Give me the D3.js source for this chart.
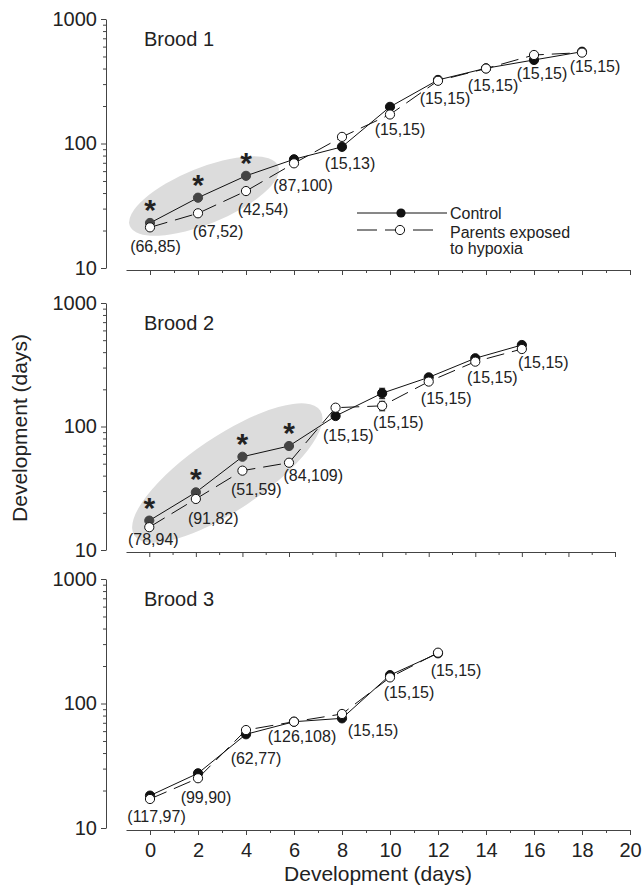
<!DOCTYPE html>
<html>
<head>
<meta charset="utf-8">
<script src="https://cdn.jsdelivr.net/npm/d3@7"></script>
<style>
    body { margin: 0; background: #fff; }
    svg { display: block; font-family: "Liberation Sans", Arial, sans-serif; }
</style>
</head>
<body>
<div id="chart"></div>
<script>
// values (development, days)
const brood1Days = [0, 2, 4, 6, 8, 10, 12, 14, 16, 18];
const brood1Control = [23, 36.7, 55, 74.7, 94, 197, 324, 402, 469, 546];
const brood1Hypoxia = [21.2, 27.5, 41.5, 69.3, 113, 171, 319, 400, 514, 537];
const brood1N = ["(66,85)", "(67,52)", "(42,54)", "(87,100)", "(15,13)", "(15,15)", "(15,15)", "(15,15)", "(15,15)", "(15,15)"];
const brood1Stars = [0, 2, 4];
const brood1Highlight = {x: [-0.84, 5.34], y: [21.7, 66]};

const brood2Days = [0, 2, 4, 6, 8, 10, 12, 14, 16];
const brood2Control = [17.3, 29.3, 56.9, 69.5, 121.6, 186, 250, 357, 457];
const brood2Hypoxia = [15.3, 25.9, 43.9, 50.9, 142, 147, 231, 335, 424];
const brood2ControlErr = [0, 0, 0, 0, 0, 18, 0, 0, 0];
const brood2HypoxiaErr = [0, 0, 0, 0, 0, 13, 0, 0, 0];
const brood2N = ["(78,94)", "(91,82)", "(51,59)", "(84,109)", "(15,15)", "(15,15)", "(15,15)", "(15,15)", "(15,15)"];
const brood2Stars = [0, 2, 4, 6];
const brood2Highlight = {x: [-0.64, 7.34], y: [13.1, 134.9]};

const brood3Days = [0, 2, 4, 6, 8, 10, 12];
const brood3Control = [18.2, 27.5, 56.6, 71.4, 76, 169, 253];
const brood3Hypoxia = [17.1, 25.1, 61.2, 71.4, 82.4, 162, 256];
const brood3N = ["(117,97)", "(99,90)", "(62,77)", "(126,108)", "(15,15)", "(15,15)", "(15,15)"];
const brood3Stars = [];

const xDomain = [-1, 20];
const yDomain = [10, 1000];
const yMajor = [10, 100, 1000];
const yMinor = [20, 30, 40, 50, 60, 70, 80, 90, 200, 300, 400, 500, 600, 700, 800, 900];
const seriesNames = ["Control", "Parents exposed", "to hypoxia"];

const width = 644, height = 888;
const ink = "#222";

// layout of the three stacked panels
const panels = [
    {
        title: "Brood 1", days: brood1Days, control: brood1Control, hypoxia: brood1Hypoxia,
        n: brood1N, stars: brood1Stars, highlight: brood1Highlight, halfThick: 28,
        left: 126, right: 630, top: 19, bottom: 268,
        labelDx: [5.5, 20, 17, 9, 8, 10, 7, 7, 8, 13],
        labelDy: [19.4, 18.4, 18, 21.7, 16.6, 14.7, 17.6, 16.7, 14, 13.7],
        legend: true
    },
    {
        title: "Brood 2", days: brood2Days, control: brood2Control, hypoxia: brood2Hypoxia,
        controlErr: brood2ControlErr, hypoxiaErr: brood2HypoxiaErr,
        n: brood2N, stars: brood2Stars, highlight: brood2Highlight, halfThick: 37,
        left: 126, right: 615, top: 303, bottom: 550,
        labelDx: [4, 17.4, 13.8, 24.3, 12.7, 16.1, 17.5, 17, 21.4],
        labelDy: [12.7, 19.3, 18.6, 13.1, 19, 17, 16.6, 16, 13.7]
    },
    {
        title: "Brood 3", days: brood3Days, control: brood3Control, hypoxia: brood3Hypoxia,
        n: brood3N, stars: brood3Stars,
        left: 126, right: 630, top: 579, bottom: 828,
        labelDx: [6.5, 8, 10, 8, 31, 19, 18],
        labelDy: [17.7, 19, 24.7, 14.3, 11.7, 15.4, 16.7],
        xLabels: true
    }
];

const svg = d3.select("#chart").append("svg")
    .attr("width", width)
    .attr("height", height);

const r = 4.6;
const dash = "18,8";

panels.forEach(p => {
    const x = d3.scaleLinear().domain(xDomain).range([p.left, p.right]);
    const y = d3.scaleLog().domain(yDomain).range([p.bottom, p.top]);
    const g = svg.append("g");

    // grey highlight behind the significant points
    if (p.highlight) {
        const x0 = x(p.highlight.x[0]), y0 = y(p.highlight.y[0]);
        const x1 = x(p.highlight.x[1]), y1 = y(p.highlight.y[1]);
        const cx = (x0 + x1) / 2, cy = (y0 + y1) / 2;
        const a = Math.hypot(x1 - x0, y1 - y0) / 2;
        const ang = Math.atan2(y1 - y0, x1 - x0) * 180 / Math.PI;
        g.append("ellipse")
            .attr("cx", 0).attr("cy", 0)
            .attr("rx", a).attr("ry", p.halfThick)
            .attr("transform", "translate(" + cx + "," + cy + ") rotate(" + ang + ")")
            .attr("fill", "#dcdcdc");
    }

    // y axis
    const yAxis = g.append("g").attr("transform", "translate(106,0)");
    yAxis.call(d3.axisLeft(y).tickValues(yMajor).tickFormat(d3.format("d")).tickSize(5).tickSizeOuter(0));
    yAxis.append("g").call(d3.axisLeft(y).tickValues(yMinor).tickFormat("").tickSize(3).tickSizeOuter(0))
        .select(".domain").remove();
    yAxis.selectAll("text")
        .attr("font-size", 20)
        .attr("font-family", "Liberation Sans, Arial, sans-serif")
        .attr("fill", ink)
        .attr("dx", "-1");

    // x axis
    const xb = p.bottom + 2;
    const xAxis = g.append("g").attr("transform", "translate(0," + xb + ")");
    xAxis.call(d3.axisBottom(x).tickValues(d3.range(0, 21, 2)).tickSize(5).tickSizeOuter(0)
        .tickFormat(p.xLabels ? d3.format("d") : ""));
    xAxis.append("g").call(d3.axisBottom(x).tickValues(d3.range(1, 20, 2)).tickFormat("").tickSize(3).tickSizeOuter(0))
        .select(".domain").remove();
    xAxis.selectAll("text")
        .attr("font-size", 20)
        .attr("font-family", "Liberation Sans, Arial, sans-serif")
        .attr("fill", ink)
        .attr("dy", "0.95em");

    svg.selectAll(".domain, .tick line").attr("stroke", "#444");

    g.append("text")
        .attr("x", 144).attr("y", p.top + 26.5)
        .attr("font-size", 20).attr("fill", ink)
        .text(p.title);

    const rows = p.days.map((d, i) => ({
        d, i, c: p.control[i], h: p.hypoxia[i],
        ce: p.controlErr ? p.controlErr[i] : 0,
        he: p.hypoxiaErr ? p.hypoxiaErr[i] : 0,
        inHl: p.stars.includes(d)
    }));

    // lines
    g.append("path").datum(rows)
        .attr("fill", "none").attr("stroke", "#111").attr("stroke-width", 1)
        .attr("d", d3.line().x(v => x(v.d)).y(v => y(v.c)));
    g.append("path").datum(rows)
        .attr("fill", "none").attr("stroke", "#111").attr("stroke-width", 1)
        .attr("stroke-dasharray", dash)
        .attr("d", d3.line().x(v => x(v.d)).y(v => y(v.h)));

    // error bars
    const errs = [];
    rows.forEach(v => {
        if (v.ce > 0) errs.push({d: v.d, lo: v.c - v.ce, hi: v.c + v.ce});
        if (v.he > 0) errs.push({d: v.d, lo: v.h - v.he, hi: v.h + v.he});
    });
    const eb = g.selectAll("g.err").data(errs).join("g").attr("class", "err")
        .attr("stroke", "#111").attr("stroke-width", 1);
    eb.append("line").attr("x1", e => x(e.d)).attr("x2", e => x(e.d))
        .attr("y1", e => y(e.lo)).attr("y2", e => y(e.hi));
    eb.append("line").attr("x1", e => x(e.d) - 3).attr("x2", e => x(e.d) + 3)
        .attr("y1", e => y(e.lo)).attr("y2", e => y(e.lo));
    eb.append("line").attr("x1", e => x(e.d) - 3).attr("x2", e => x(e.d) + 3)
        .attr("y1", e => y(e.hi)).attr("y2", e => y(e.hi));

    // markers
    g.selectAll("circle.ctrl").data(rows).join("circle").attr("class", "ctrl")
        .attr("cx", v => x(v.d)).attr("cy", v => y(v.c)).attr("r", r)
        .attr("fill", v => v.inHl ? "#444" : "#111")
        .attr("stroke", v => v.inHl ? "#444" : "#111");
    g.selectAll("circle.hyp").data(rows).join("circle").attr("class", "hyp")
        .attr("cx", v => x(v.d)).attr("cy", v => y(v.h)).attr("r", r)
        .attr("fill", "#fff").attr("stroke", "#111").attr("stroke-width", 1);

    // significance stars
    g.selectAll("text.star").data(rows.filter(v => v.inHl)).join("text").attr("class", "star")
        .attr("x", v => x(v.d)).attr("y", v => y(v.c) - 20 + 17)
        .attr("text-anchor", "middle")
        .attr("font-size", 30).attr("font-weight", "bold").attr("fill", ink)
        .text("*");

    // sample sizes
    g.selectAll("text.n").data(rows).join("text").attr("class", "n")
        .attr("x", v => x(v.d) + p.labelDx[v.i])
        .attr("y", v => Math.max(y(v.c), y(v.h)) + p.labelDy[v.i] + 5.5)
        .attr("text-anchor", "middle")
        .attr("font-size", 16).attr("fill", ink)
        .text(v => p.n[v.i]);

    if (p.legend) {
        const lg = g.append("g");
        const lx0 = 357, lx1 = 447, lm = 401, ly1 = 213, ly2 = 230;
        lg.append("line").attr("x1", lx0).attr("x2", lx1).attr("y1", ly1).attr("y2", ly1)
            .attr("stroke", "#111");
        lg.append("circle").attr("cx", lm).attr("cy", ly1).attr("r", r).attr("fill", "#111");
        lg.append("line").attr("x1", lx0).attr("x2", 438).attr("y1", ly2).attr("y2", ly2)
            .attr("stroke", "#111").attr("stroke-dasharray", "20,8");
        lg.append("circle").attr("cx", lm - 1).attr("cy", ly2).attr("r", r)
            .attr("fill", "#fff").attr("stroke", "#111");
        lg.selectAll("text").data(seriesNames).join("text")
            .attr("x", 450)
            .attr("y", (d, i) => [218.5, 237.5, 253.5][i])
            .attr("font-size", 16).attr("fill", ink)
            .text(d => d);
    }
});

// axis titles
svg.append("text")
    .attr("x", 378).attr("y", 881)
    .attr("text-anchor", "middle")
    .attr("font-size", 21).attr("fill", ink)
    .text("Development (days)");
svg.append("text")
    .attr("transform", "translate(27,428) rotate(-90)")
    .attr("text-anchor", "middle")
    .attr("font-size", 21).attr("fill", ink)
    .text("Development (days)");
</script>
</body>
</html>
